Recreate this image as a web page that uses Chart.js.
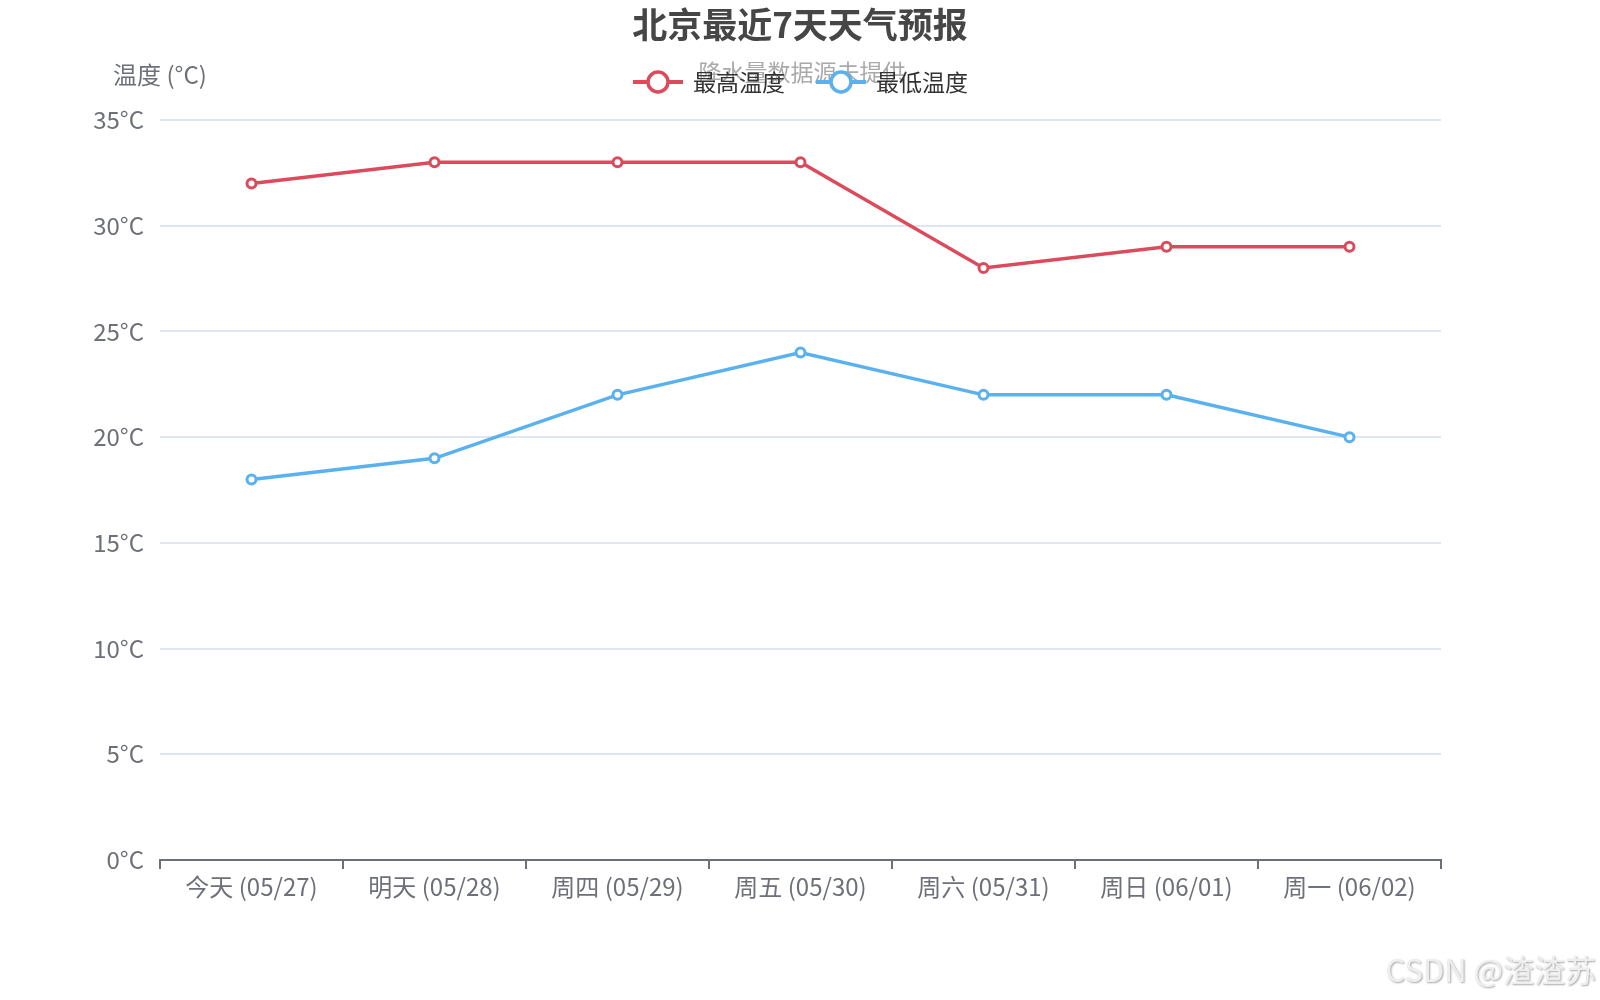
<!DOCTYPE html>
<html>
<head>
<meta charset="utf-8">
<script src="https://cdn.jsdelivr.net/npm/chart.js@4.4.1/dist/chart.umd.min.js"></script>
<style>
html,body{margin:0;padding:0;background:#fff;}
#wrap{width:1600px;height:1000px;position:relative;}
</style>
</head>
<body>
<div id="wrap"><canvas id="c" width="1600" height="1000"></canvas></div>
<script>
const categories = ['今天 (05/27)','明天 (05/28)','周四 (05/29)','周五 (05/30)','周六 (05/31)','周日 (06/01)','周一 (06/02)'];
const highTemps = [32,33,33,33,28,29,29];
const lowTemps = [18,19,22,24,22,22,20];
const seriesNames = ['最高温度','最低温度'];
const seriesColors = ['#dc4b5b','#5ab1ef'];
const titleText = '北京最近7天天气预报';
const subtitleText = '降水量数据源未提供';
const yAxisName = '温度 (°C)';
const watermark = 'CSDN @渣渣苏';

const FONT = '"Noto Sans CJK SC","Noto Sans",sans-serif';

const overlay = {
  id:'overlay',
  afterDraw(chart){
    const ctx = chart.ctx;
    ctx.save();
    ctx.textAlign='center'; ctx.textBaseline='middle';
    ctx.fillStyle='#464646';
    ctx.font='bold 35px '+FONT;
    ctx.fillText(titleText, 800, 25);
    ctx.fillStyle='#aaaaaa';
    ctx.font='23px '+FONT;
    ctx.fillText(subtitleText, 802, 72);
    const items = [{x:633,name:seriesNames[0],color:seriesColors[0]},{x:816,name:seriesNames[1],color:seriesColors[1]}];
    const ly = 82;
    items.forEach(it=>{
      ctx.strokeStyle=it.color; ctx.lineWidth=4;
      ctx.beginPath(); ctx.moveTo(it.x, ly); ctx.lineTo(it.x+50, ly); ctx.stroke();
      ctx.beginPath(); ctx.arc(it.x+25, ly, 10, 0, Math.PI*2);
      ctx.fillStyle='#fff'; ctx.fill(); ctx.lineWidth=3.5; ctx.stroke();
      ctx.fillStyle='#333'; ctx.font='23px '+FONT; ctx.textAlign='left';
      ctx.fillText(it.name, it.x+60, ly);
    });
    ctx.textAlign='center'; ctx.fillStyle='#6e7079'; ctx.font='24px '+FONT;
    ctx.fillText(yAxisName, 160, 75);
    ctx.textAlign='right'; ctx.font='31px '+FONT;
    ctx.shadowColor='rgba(0,0,0,0.35)'; ctx.shadowOffsetX=1; ctx.shadowOffsetY=1; ctx.shadowBlur=2;
    ctx.fillStyle='#eeeeee';
    ctx.fillText(watermark, 1596, 970);
    ctx.restore();
  }
};

new Chart(document.getElementById('c'), {
  type:'line',
  data:{
    labels:categories,
    datasets:[
      {label:seriesNames[0],data:highTemps,borderColor:seriesColors[0],backgroundColor:'#fff',
       borderWidth:3.5,pointRadius:4.5,pointBorderWidth:3,pointBackgroundColor:'#fff',pointBorderColor:seriesColors[0],tension:0},
      {label:seriesNames[1],data:lowTemps,borderColor:seriesColors[1],backgroundColor:'#fff',
       borderWidth:3.5,pointRadius:4.5,pointBorderWidth:3,pointBackgroundColor:'#fff',pointBorderColor:seriesColors[1],tension:0}
    ]
  },
  options:{
    responsive:false,animation:false,
    layout:{padding:{top:120,right:159,left:0,bottom:0}},
    plugins:{legend:{display:false},title:{display:false},tooltip:{enabled:false}},
    scales:{
      x:{
        offset:true,
        afterFit(s){ s.height=140; },
        grid:{display:true,offset:true,drawOnChartArea:false,drawTicks:true,tickLength:9,color:'#6e7079',lineWidth:2},
        border:{display:true,color:'#6e7079',width:2},
        ticks:{color:'#6e7079',font:{family:FONT,size:24},padding:3,maxRotation:0,autoSkip:false}
      },
      y:{
        min:0,max:35,
        afterFit(s){ s.width=160; },
        grid:{color:'#e0e6f1',lineWidth:2,drawTicks:false},
        border:{display:false},
        ticks:{stepSize:5,color:'#6e7079',font:{family:FONT,size:24},padding:16,callback:v=>v+'°C'}
      }
    }
  },
  plugins:[overlay]
});
</script>
</body>
</html>
